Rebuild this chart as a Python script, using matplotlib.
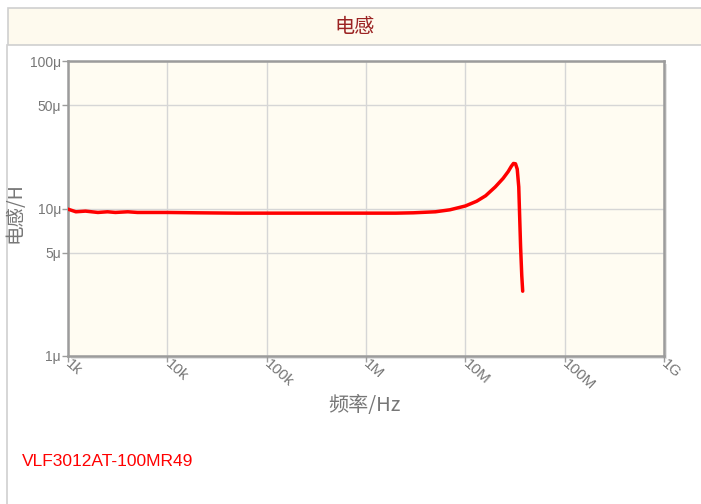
import numpy as np
import matplotlib
matplotlib.use('Agg')
import matplotlib.pyplot as plt
from matplotlib.patches import Rectangle
from matplotlib.lines import Line2D

# measured inductance vs frequency
freq = [1e3, 1.2e3, 1.5e3, 2e3, 2.5e3, 3e3, 4e3, 5e3, 7e3, 1e4, 2e4, 5e4, 1e5,
        2e5, 5e5, 1e6, 2e6, 3e6, 5e6, 7e6, 1e7, 1.3e7, 1.6e7, 2e7, 2.4e7,
        2.7e7, 2.9e7, 3.05e7, 3.2e7, 3.33e7, 3.45e7, 3.52e7, 3.6e7, 3.7e7, 3.78e7]
induct = [9.9, 9.5, 9.6, 9.4, 9.5, 9.4, 9.5, 9.4, 9.4, 9.4, 9.35, 9.3, 9.3,
          9.3, 9.3, 9.3, 9.3, 9.35, 9.5, 9.8, 10.4, 11.2, 12.2, 14.0, 16.0,
          17.8, 19.3, 20.2, 20.1, 18.5, 14.0, 9.0, 5.5, 3.5, 2.75]

xticks = [1e3, 1e4, 1e5, 1e6, 1e7, 1e8, 1e9]
xticklabels = ['1k', '10k', '100k', '1M', '10M', '100M', '1G']
yticks = [1e-6, 5e-6, 1e-5, 5e-5, 1e-4]
yticklabels = ['1\u03bc', '5\u03bc', '10\u03bc', '50\u03bc', '100\u03bc']

cjk = ['Noto Sans CJK SC', 'DejaVu Sans']
W, H = 701, 504

fig = plt.figure(figsize=(W / 100, H / 100), dpi=100)
fig.patch.set_facecolor('white')

# header band
fig.patches.append(Rectangle((8 / W, 1 - 45 / H), 1, 37 / H, transform=fig.transFigure,
                             facecolor='#fefaee', edgecolor='#cfcfcf', linewidth=1.2))
fig.lines.append(Line2D([7 / W, 7 / W], [0, 1 - 45 / H], transform=fig.transFigure,
                        color='#cfcfcf', linewidth=1.2))
fig.text(355 / W, 1 - 27 / H, '电感', family=cjk, color='#9b2323', fontsize=14.5,
         ha='center', va='center')

ax_l, ax_r, ax_t, ax_b = 68, 664, 61, 356
pos = [ax_l / W, 1 - ax_b / H, (ax_r - ax_l) / W, (ax_b - ax_t) / H]

# drop shadow behind plot frame
fig.patches.append(Rectangle((pos[0] + 3 / W, pos[1] - 3 / H), pos[2], pos[3],
                             transform=fig.transFigure, facecolor='#e4e4e4',
                             edgecolor='none', zorder=0))

ax = fig.add_axes(pos)
ax.set_zorder(2)
ax.set_facecolor('#fffcf2')
ax.plot(freq, [v * 1e-6 for v in induct], color='#ff0000',
        linewidth=2.5, solid_capstyle='round', solid_joinstyle='round', zorder=3)

ax.set_xscale('log')
ax.set_yscale('log')
ax.set_xlim(1e3, 1e9)
ax.set_ylim(1e-6, 1e-4)
ax.set_xticks(xticks)
ax.set_xticklabels(xticklabels)
ax.set_yticks(yticks)
ax.set_yticklabels(yticklabels)
ax.minorticks_off()
ax.grid(True, color='#d6d6d6', linewidth=1)
ax.set_axisbelow(True)

for s in ax.spines.values():
    s.set_color('#9c9c9c')
    s.set_linewidth(1.8)

ax.tick_params(axis='both', length=4, width=1, color='#9c9c9c', labelcolor='#777777',
               labelsize=10, pad=1)
ax.tick_params(axis='x', labelsize=11, pad=0)
for lab in ax.get_xticklabels():
    lab.set_rotation(-42)
    lab.set_ha('left')
    lab.set_va('center')
    lab.set_rotation_mode('anchor')
    lab.set_family('Liberation Sans')
for lab in ax.get_yticklabels():
    lab.set_family('Liberation Sans')

fig.text(15 / W, 1 - 213 / H, '电感/H', family=cjk, color='#777777', fontsize=14,
         rotation=90, ha='center', va='center')
fig.text(364 / W, 1 - 405 / H, '频率/Hz', family=cjk, color='#777777', fontsize=14.5,
         ha='center', va='center')
fig.text(22 / W, 1 - 462 / H, 'VLF3012AT-100MR49', family='Liberation Sans',
         color='#ff0000', fontsize=12.5, ha='left', va='center')

fig.savefig('out.png', dpi=100)
